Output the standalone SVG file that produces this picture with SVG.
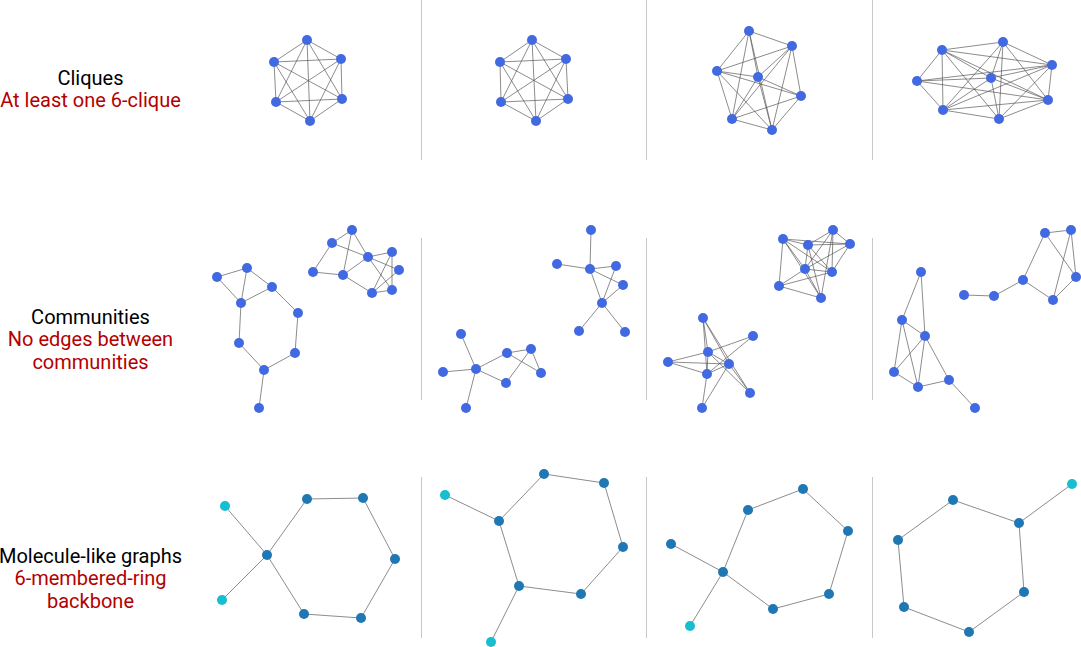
<svg xmlns="http://www.w3.org/2000/svg" width="1081" height="647" viewBox="0 0 1081 647">
<style>
.bg{fill:#ffffff}
.sep{stroke:#c8c8c8;stroke-width:1}
.e{stroke:#555555;stroke-width:0.8;stroke-opacity:0.85;fill:none}
.n{fill:#4169e1}
.d{fill:#1f77b4}
.c{fill:#17becf}
.t{font-family:Roboto,"Liberation Sans",sans-serif;font-size:20px;text-anchor:middle}
.k{fill:#000000}
.r{fill:#b30000}
</style>
<rect class="bg" x="0" y="0" width="1081" height="647"/>
<g id="separators">
<line class="sep" x1="421.5" y1="0" x2="421.5" y2="160"/>
<line class="sep" x1="646.5" y1="0" x2="646.5" y2="160"/>
<line class="sep" x1="872.5" y1="0" x2="872.5" y2="160"/>
<line class="sep" x1="421.5" y1="238" x2="421.5" y2="400"/>
<line class="sep" x1="646.5" y1="238" x2="646.5" y2="400"/>
<line class="sep" x1="872.5" y1="238" x2="872.5" y2="400"/>
<line class="sep" x1="421.5" y1="477" x2="421.5" y2="638"/>
<line class="sep" x1="646.5" y1="477" x2="646.5" y2="638"/>
<line class="sep" x1="872.5" y1="477" x2="872.5" y2="638"/>
</g>
<g id="labels">
<text class="t k" x="90.5" y="85">Cliques</text>
<text class="t r" x="90.5" y="107">At least one 6-clique</text>
<text class="t k" x="90.5" y="324">Communities</text>
<text class="t r" x="90.5" y="346">No edges between</text>
<text class="t r" x="90.5" y="369">communities</text>
<text class="t k" x="90.5" y="563">Molecule-like graphs</text>
<text class="t r" x="90.5" y="585">6-membered-ring</text>
<text class="t r" x="90.5" y="608">backbone</text>
</g>
<g id="connectors">
<path class="e" d="M307,40L341,59M307,40L342,99M307,40L310,121M307,40L276,102M307,40L274,62M341,59L342,99M341,59L310,121M341,59L276,102M341,59L274,62M342,99L310,121M342,99L276,102M342,99L274,62M310,121L276,102M310,121L274,62M276,102L274,62"/>
<path class="e" d="M532,40L566,59M532,40L568,99M532,40L536,121M532,40L501,102M532,40L500,62M566,59L568,99M566,59L536,121M566,59L501,102M566,59L500,62M568,99L536,121M568,99L501,102M568,99L500,62M536,121L501,102M536,121L500,62M501,102L500,62"/>
<path class="e" d="M749,31L792,46M749,31L717,71M749,31L758,77M749,31L732,119M749,31L772,130M792,46L717,71M792,46L758,77M792,46L801,96M792,46L732,119M792,46L772,130M717,71L758,77M717,71L801,96M717,71L732,119M717,71L772,130M758,77L801,96M758,77L732,119M758,77L772,130M801,96L732,119M801,96L772,130M732,119L772,130"/>
<path class="e" d="M942,50L1003,42M942,50L1052,65M942,50L917,81M942,50L991,78M942,50L1048,100M942,50L943,110M942,50L999,119M1003,42L1052,65M1003,42L991,78M1003,42L1048,100M1003,42L943,110M1003,42L999,119M1052,65L917,81M1052,65L991,78M1052,65L1048,100M1052,65L943,110M1052,65L999,119M917,81L991,78M917,81L1048,100M917,81L943,110M991,78L1048,100M991,78L943,110M991,78L999,119M1048,100L943,110M1048,100L999,119M943,110L999,119"/>
<path class="e" d="M217,277L247,268M217,277L241,303M247,268L241,303M247,268L272,287M272,287L241,303M272,287L298,313M241,303L239,343M239,343L264,370M298,313L295,353M295,353L264,370M264,370L259,408"/>
<path class="e" d="M352,230L332,243M352,230L343,275M352,230L368,257M332,243L368,257M332,243L313,272M313,272L343,275M343,275L368,257M368,257L392,252M368,257L399,270M368,257L392,290M343,275L372,293M392,252L372,293M392,252L392,290M399,270L372,293M372,293L392,290"/>
<path class="e" d="M591,230L590,269M557,264L590,269M590,269L616,266M590,269L623,285M590,269L602,303M616,266L602,303M623,285L602,303M602,303L579,331M602,303L625,332"/>
<path class="e" d="M461,334L476,369M443,372L476,369M476,369L466,408M476,369L507,353M476,369L506,383M507,353L531,349M507,353L541,373M531,349L541,373M531,349L506,383"/>
<path class="e" d="M783,239L808,245M783,239L850,244M783,239L779,286M783,239L805,269M783,239L821,298M783,239L832,272M808,245L833,230M808,245L850,244M808,245L805,269M808,245L832,272M808,245L821,298M833,230L850,244M833,230L805,269M833,230L832,272M833,230L821,298M850,244L832,272M850,244L805,269M805,269L832,272M805,269L779,286M779,286L832,272M779,286L821,298M805,269L821,298"/>
<path class="e" d="M703,318L708,352M703,318L707,374M703,318L729,364M703,318L750,393M753,336L708,352M753,336L707,374M668,362L708,352M668,362L729,364M668,362L707,374M708,352L729,364M708,352L707,374M708,352L750,393M729,364L707,374M729,364L750,393M707,374L702,408M729,364L702,408"/>
<path class="e" d="M1045,233L1071,230M1045,233L1023,280M1045,233L1076,277M1071,230L1076,277M1071,230L1053,300M1076,277L1053,300M1053,300L1023,280M1023,280L994,296M994,296L964,295"/>
<path class="e" d="M921,272L902,320M921,272L925,336M902,320L925,336M902,320L894,372M902,320L918,387M925,336L894,372M925,336L918,387M925,336L949,380M894,372L918,387M918,387L949,380M949,380L975,408"/>
<path class="e" d="M225,506L267,555M222,600L267,555M267,555L307,499L363,498L395,559L361,618L304,614Z"/>
<path class="e" d="M445,495L499,521M519,586L491,642M499,521L544,474L604,483L623,547L581,594L519,586Z"/>
<path class="e" d="M671,544L723,572M723,572L690,626M723,572L748,510L803,489L848,531L829,594L773,609Z"/>
<path class="e" d="M1072,484L1019,523M1019,523L953,500L898,540L904,607L969,632L1024,592Z"/>
</g>
<g id="nodes-row1">
<g id="r1p1"><circle class="n" cx="307" cy="40" r="5"/><circle class="n" cx="341" cy="59" r="5"/><circle class="n" cx="342" cy="99" r="5"/><circle class="n" cx="310" cy="121" r="5"/><circle class="n" cx="276" cy="102" r="5"/><circle class="n" cx="274" cy="62" r="5"/></g>
<g id="r1p2"><circle class="n" cx="532" cy="40" r="5"/><circle class="n" cx="566" cy="59" r="5"/><circle class="n" cx="568" cy="99" r="5"/><circle class="n" cx="536" cy="121" r="5"/><circle class="n" cx="501" cy="102" r="5"/><circle class="n" cx="500" cy="62" r="5"/></g>
<g id="r1p3"><circle class="n" cx="749" cy="31" r="5"/><circle class="n" cx="792" cy="46" r="5"/><circle class="n" cx="717" cy="71" r="5"/><circle class="n" cx="758" cy="77" r="5"/><circle class="n" cx="801" cy="96" r="5"/><circle class="n" cx="732" cy="119" r="5"/><circle class="n" cx="772" cy="130" r="5"/></g>
<g id="r1p4"><circle class="n" cx="942" cy="50" r="5"/><circle class="n" cx="1003" cy="42" r="5"/><circle class="n" cx="1052" cy="65" r="5"/><circle class="n" cx="917" cy="81" r="5"/><circle class="n" cx="991" cy="78" r="5"/><circle class="n" cx="1048" cy="100" r="5"/><circle class="n" cx="943" cy="110" r="5"/><circle class="n" cx="999" cy="119" r="5"/></g>
</g>
<g id="nodes-row2">
<g id="r2p1"><circle class="n" cx="217" cy="277" r="5"/><circle class="n" cx="247" cy="268" r="5"/><circle class="n" cx="272" cy="287" r="5"/><circle class="n" cx="241" cy="303" r="5"/><circle class="n" cx="298" cy="313" r="5"/><circle class="n" cx="239" cy="343" r="5"/><circle class="n" cx="295" cy="353" r="5"/><circle class="n" cx="264" cy="370" r="5"/><circle class="n" cx="259" cy="408" r="5"/><circle class="n" cx="352" cy="230" r="5"/><circle class="n" cx="332" cy="243" r="5"/><circle class="n" cx="313" cy="272" r="5"/><circle class="n" cx="343" cy="275" r="5"/><circle class="n" cx="368" cy="257" r="5"/><circle class="n" cx="392" cy="252" r="5"/><circle class="n" cx="399" cy="270" r="5"/><circle class="n" cx="372" cy="293" r="5"/><circle class="n" cx="392" cy="290" r="5"/></g>
<g id="r2p2"><circle class="n" cx="591" cy="230" r="5"/><circle class="n" cx="557" cy="264" r="5"/><circle class="n" cx="590" cy="269" r="5"/><circle class="n" cx="616" cy="266" r="5"/><circle class="n" cx="623" cy="285" r="5"/><circle class="n" cx="602" cy="303" r="5"/><circle class="n" cx="579" cy="331" r="5"/><circle class="n" cx="625" cy="332" r="5"/><circle class="n" cx="461" cy="334" r="5"/><circle class="n" cx="443" cy="372" r="5"/><circle class="n" cx="476" cy="369" r="5"/><circle class="n" cx="466" cy="408" r="5"/><circle class="n" cx="507" cy="353" r="5"/><circle class="n" cx="531" cy="349" r="5"/><circle class="n" cx="541" cy="373" r="5"/><circle class="n" cx="506" cy="383" r="5"/></g>
<g id="r2p3"><circle class="n" cx="783" cy="239" r="5"/><circle class="n" cx="808" cy="245" r="5"/><circle class="n" cx="833" cy="230" r="5"/><circle class="n" cx="850" cy="244" r="5"/><circle class="n" cx="805" cy="269" r="5"/><circle class="n" cx="832" cy="272" r="5"/><circle class="n" cx="779" cy="286" r="5"/><circle class="n" cx="821" cy="298" r="5"/><circle class="n" cx="703" cy="318" r="5"/><circle class="n" cx="753" cy="336" r="5"/><circle class="n" cx="708" cy="352" r="5"/><circle class="n" cx="668" cy="362" r="5"/><circle class="n" cx="729" cy="364" r="5"/><circle class="n" cx="707" cy="374" r="5"/><circle class="n" cx="750" cy="393" r="5"/><circle class="n" cx="702" cy="408" r="5"/></g>
<g id="r2p4"><circle class="n" cx="1045" cy="233" r="5"/><circle class="n" cx="1071" cy="230" r="5"/><circle class="n" cx="1076" cy="277" r="5"/><circle class="n" cx="1053" cy="300" r="5"/><circle class="n" cx="1023" cy="280" r="5"/><circle class="n" cx="994" cy="296" r="5"/><circle class="n" cx="964" cy="295" r="5"/><circle class="n" cx="921" cy="272" r="5"/><circle class="n" cx="902" cy="320" r="5"/><circle class="n" cx="925" cy="336" r="5"/><circle class="n" cx="894" cy="372" r="5"/><circle class="n" cx="918" cy="387" r="5"/><circle class="n" cx="949" cy="380" r="5"/><circle class="n" cx="975" cy="408" r="5"/></g>
</g>
<g id="nodes-row3">
<g id="r3p1"><circle class="c" cx="225" cy="506" r="5"/><circle class="c" cx="222" cy="600" r="5"/><circle class="d" cx="267" cy="555" r="5"/><circle class="d" cx="307" cy="499" r="5"/><circle class="d" cx="363" cy="498" r="5"/><circle class="d" cx="395" cy="559" r="5"/><circle class="d" cx="361" cy="618" r="5"/><circle class="d" cx="304" cy="614" r="5"/></g>
<g id="r3p2"><circle class="c" cx="445" cy="495" r="5"/><circle class="d" cx="499" cy="521" r="5"/><circle class="d" cx="544" cy="474" r="5"/><circle class="d" cx="604" cy="483" r="5"/><circle class="d" cx="623" cy="547" r="5"/><circle class="d" cx="581" cy="594" r="5"/><circle class="d" cx="519" cy="586" r="5"/><circle class="c" cx="491" cy="642" r="5"/></g>
<g id="r3p3"><circle class="d" cx="671" cy="544" r="5"/><circle class="d" cx="723" cy="572" r="5"/><circle class="d" cx="748" cy="510" r="5"/><circle class="d" cx="803" cy="489" r="5"/><circle class="d" cx="848" cy="531" r="5"/><circle class="d" cx="829" cy="594" r="5"/><circle class="d" cx="773" cy="609" r="5"/><circle class="c" cx="690" cy="626" r="5"/></g>
<g id="r3p4"><circle class="c" cx="1072" cy="484" r="5"/><circle class="d" cx="1019" cy="523" r="5"/><circle class="d" cx="953" cy="500" r="5"/><circle class="d" cx="898" cy="540" r="5"/><circle class="d" cx="904" cy="607" r="5"/><circle class="d" cx="969" cy="632" r="5"/><circle class="d" cx="1024" cy="592" r="5"/></g>
</g>
</svg>
